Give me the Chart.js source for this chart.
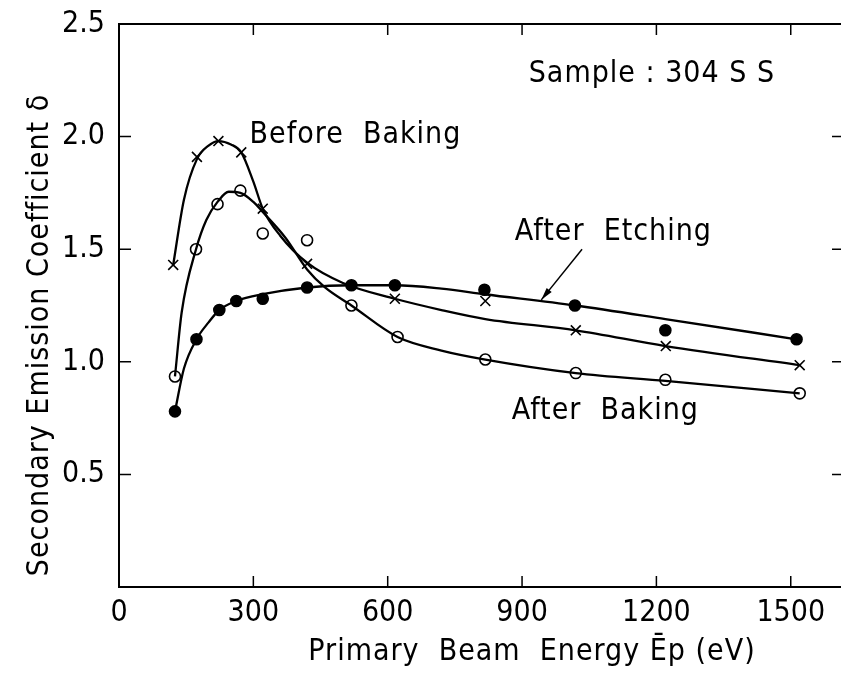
<!DOCTYPE html>
<html>
<head>
<meta charset="utf-8">
<script src="https://cdn.jsdelivr.net/npm/chart.js@4.4.1/dist/chart.umd.min.js"></script>
<style>
  html, body { margin: 0; padding: 0; background: #fff; }
  #wrap { width: 841px; height: 676px; }
</style>
</head>
<body>
<div id="wrap"><canvas id="myChart" width="841" height="676"></canvas></div>
<script>
// tick values
const xTicks = [0, 300, 600, 900, 1200, 1500];
const yTicks = [0.5, 1.0, 1.5, 2.0, 2.5];

// measured points (x = eV, y = delta)
const beforeX = [121, 174, 222, 273, 321, 420, 616, 818, 1020, 1221, 1520];
const beforeY = [1.43, 1.91, 1.98, 1.93, 1.68, 1.435, 1.28, 1.27, 1.14, 1.07, 0.985];

const bakedX = [125, 172, 220, 271, 321, 420, 519, 622, 818, 1020, 1220, 1520];
const bakedY = [0.935, 1.50, 1.70, 1.76, 1.57, 1.54, 1.25, 1.11, 1.01, 0.95, 0.92, 0.86];

const etchX = [125, 173, 224, 262, 321, 420, 519, 616, 816, 1018, 1220, 1513];
const etchY = [0.78, 1.10, 1.23, 1.27, 1.28, 1.33, 1.34, 1.34, 1.32, 1.25, 1.14, 1.10];

// hand drawn curves
const beforeCurveX = [121, 145, 174, 200, 222, 250, 273, 300, 321, 360, 420, 500, 616, 720, 818, 1020, 1220, 1520];
const beforeCurveY = [1.43, 1.72, 1.90, 1.96, 1.98, 1.965, 1.93, 1.80, 1.68, 1.56, 1.44, 1.35, 1.28, 1.23, 1.19, 1.14, 1.07, 0.985];

const bakedCurveX = [125, 140, 172, 195, 220, 245, 271, 300, 321, 372, 420, 460, 519, 622, 720, 818, 1020, 1220, 1520];
const bakedCurveY = [0.935, 1.22, 1.50, 1.63, 1.71, 1.755, 1.75, 1.71, 1.665, 1.55, 1.41, 1.33, 1.25, 1.11, 1.05, 1.01, 0.95, 0.915, 0.86];

const etchCurveX = [125, 145, 173, 200, 224, 262, 321, 420, 519, 616, 720, 816, 1018, 1220, 1513];
const etchCurveY = [0.78, 0.97, 1.10, 1.175, 1.23, 1.27, 1.30, 1.33, 1.34, 1.34, 1.325, 1.30, 1.25, 1.19, 1.10];

function pts(xs, ys) {
  return xs.map(function(x, i) { return {x: x, y: ys[i]}; });
}

const FONT = '"Liberation Sans Narrow", "DejaVu Sans Condensed", sans-serif';

function curve(xs, ys) {
  return {
    data: pts(xs, ys),
    showLine: true,
    borderColor: '#000',
    borderWidth: 2.3,
    pointRadius: 0,
    cubicInterpolationMode: 'monotone',
    fill: false
  };
}

function marks(xs, ys, style, fillCol) {
  return {
    data: pts(xs, ys),
    showLine: false,
    pointStyle: style,
    pointRadius: style === 'crossRot' ? 7 : 5.5,
    pointBorderWidth: 1.6,
    pointBorderColor: '#000',
    pointBackgroundColor: fillCol
  };
}

// frame, inward ticks, titles, labels
const decor = {
  id: 'decor',
  afterDraw: function(chart) {
    const ctx = chart.ctx;
    const xs = chart.scales.x, ys = chart.scales.y;
    const a = chart.chartArea;
    ctx.save();
    ctx.strokeStyle = '#000';
    ctx.lineWidth = 2;
    ctx.beginPath();
    ctx.moveTo(841, a.top); ctx.lineTo(a.left, a.top);
    ctx.lineTo(a.left, a.bottom); ctx.lineTo(841, a.bottom);
    ctx.stroke();
    ctx.lineWidth = 1.5;
    ctx.beginPath();
    yTicks.forEach(function(v) {
      if (v >= 2.5) return;
      const py = ys.getPixelForValue(v);
      ctx.moveTo(a.left, py); ctx.lineTo(a.left + 12, py);
      ctx.moveTo(841, py); ctx.lineTo(832, py);
    });
    xTicks.forEach(function(v) {
      if (v === 0) return;
      const px = xs.getPixelForValue(v);
      ctx.moveTo(px, a.bottom); ctx.lineTo(px, a.bottom - 11);
      ctx.moveTo(px, a.top); ctx.lineTo(px, a.top + 11);
    });
    ctx.stroke();

    ctx.fillStyle = '#000';
    ctx.font = '30px ' + FONT;
    ctx.textAlign = 'center';
    ctx.textBaseline = 'middle';
    ctx.letterSpacing = '1px';
    function label(t, x, y) {
      ctx.fillText(t, xs.getPixelForValue(x), ys.getPixelForValue(y));
    }
    label('Sample : 304 S S', 1190, 2.275);
    label('Before  Baking', 528, 2.005);
    label('After  Etching', 1104, 1.577);
    label('After  Baking', 1086, 0.78);

    // arrow to the etching curve
    const x1 = xs.getPixelForValue(1034), y1 = ys.getPixelForValue(1.50);
    const x2 = xs.getPixelForValue(943), y2 = ys.getPixelForValue(1.275);
    ctx.lineWidth = 1.5;
    ctx.beginPath();
    ctx.moveTo(x1, y1); ctx.lineTo(x2, y2); ctx.stroke();
    const ang = Math.atan2(y2 - y1, x2 - x1);
    ctx.beginPath();
    ctx.moveTo(x2, y2);
    ctx.lineTo(x2 - 13 * Math.cos(ang - 0.25), y2 - 13 * Math.sin(ang - 0.25));
    ctx.lineTo(x2 - 13 * Math.cos(ang + 0.25), y2 - 13 * Math.sin(ang + 0.25));
    ctx.closePath();
    ctx.fill();

    // axis titles
    ctx.fillText('Primary  Beam  Energy Ēp (eV)', 532, 652);
    ctx.translate(40, 335);
    ctx.rotate(-Math.PI / 2);
    ctx.fillText('Secondary Emission Coefficient δ', 0, 0);
    ctx.restore();
  }
};

const ctx = document.getElementById('myChart');
new Chart(ctx, {
  type: 'scatter',
  data: {
    datasets: [
      curve(beforeCurveX, beforeCurveY),
      curve(bakedCurveX, bakedCurveY),
      curve(etchCurveX, etchCurveY),
      marks(beforeX, beforeY, 'crossRot', '#000'),
      marks(bakedX, bakedY, 'circle', '#fff'),
      marks(etchX, etchY, 'circle', '#000')
    ]
  },
  options: {
    responsive: false,
    animation: false,
    layout: { padding: { top: 21, right: 0, left: 0, bottom: 0 } },
    plugins: { legend: { display: false }, tooltip: { enabled: false } },
    scales: {
      x: {
        type: 'linear', min: 0, max: 1593,
        grid: { display: false }, border: { display: false },
        afterBuildTicks: function(s) { s.ticks = xTicks.map(function(v) { return {value: v}; }); },
        afterFit: function(s) { s.height = 89; },
        ticks: { color: '#000', font: { family: FONT, size: 30 }, padding: 0, maxRotation: 0,
                 callback: function(v) { return String(v); } }
      },
      y: {
        type: 'linear', min: 0, max: 2.5,
        grid: { display: false }, border: { display: false },
        afterBuildTicks: function(s) { s.ticks = yTicks.map(function(v) { return {value: v}; }); },
        afterFit: function(s) { s.width = 119; },
        ticks: { color: '#000', font: { family: FONT, size: 30 }, padding: 6,
                 callback: function(v) { return v.toFixed(1); } }
      }
    }
  },
  plugins: [decor]
});
</script>
</body>
</html>
